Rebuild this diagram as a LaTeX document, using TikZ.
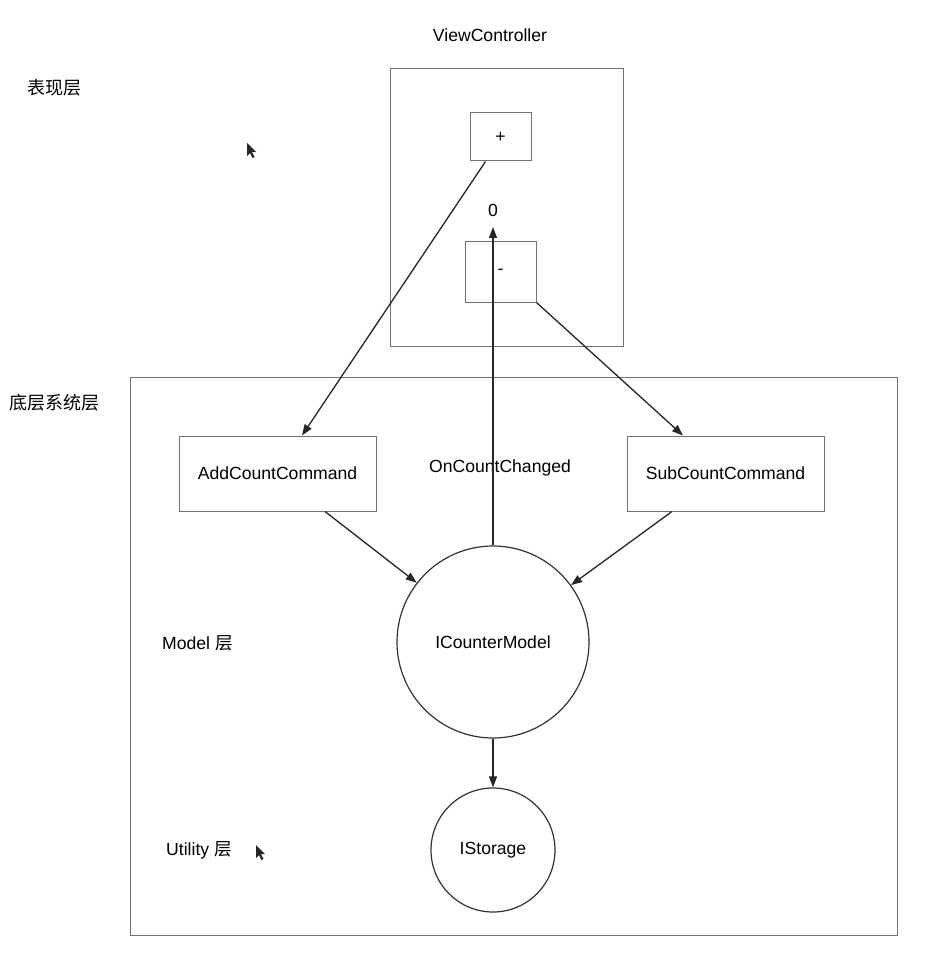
\documentclass[tikz,border=0pt]{standalone}
\usepackage{fontspec}
\setmainfont{Liberation Sans}
\newfontfamily\cjk{Noto Sans CJK SC}
\usetikzlibrary{arrows.meta,calc}
\begin{document}
\begin{tikzpicture}[x=1pt,y=-1pt,
  font=\fontsize{17.6}{20}\selectfont,
  box/.style={draw=black!55, line width=1pt, inner sep=0pt},
  circ/.style={circle, draw=black!80, line width=1.2pt, inner sep=0pt},
  arr/.style={draw=black!85, line width=1.3pt, -{Triangle[length=11pt,width=8pt]}},
  lbl/.style={inner sep=0pt, anchor=west},
  cursor/.style={fill=black!85}]
\useasboundingbox[fill=white] (0,0) rectangle (948,965);

% containers
\node[box, minimum width=233pt, minimum height=277pt] (vc) at (506.5,207.5) {};
\node[box, minimum width=767pt, minimum height=558pt] (sys) at (513.5,656) {};

% titles and layer labels
\node[inner sep=0pt] (vctitle) at (490,35) {ViewController};
\node[lbl] (l1) at (27,88) {\cjk\fontsize{18}{20}\selectfont 表现层};
\node[lbl] (l2) at (9,403) {\cjk\fontsize{18}{20}\selectfont 底层系统层};
\node[lbl] (l3) at (162,643) {Model {\cjk 层}};
\node[lbl] (l4) at (166,850) {Utility {\cjk 层}};

% view buttons
\node[box, minimum width=61pt, minimum height=48pt] (plus) at (500.5,137) {+};
\node[box, minimum width=71pt, minimum height=60pt] (minus) at (500.5,272) {-};
\node[inner sep=0pt] (zero) at (493,210) {0};
\coordinate (zerotip) at (493,227);

% commands
\node[box, minimum width=197pt, minimum height=75pt] (add) at (277.5,473.5) {AddCountCommand};
\node[box, minimum width=197pt, minimum height=75pt] (sub) at (725.5,473.5) {SubCountCommand};
\node[inner sep=0pt] (occ) at (500,468) {OnCountChanged};

% model and storage
\node[circ, minimum size=192pt] (icm) at (493,642) {ICounterModel};
\node[circ, minimum size=124pt] (ist) at (493,850) {IStorage};

% connectors
\draw[arr] ($(plus.south)+(-15,0)$) -- ($(add.north)+(24.5,0)$);
\draw[arr] (minus.south east) -- ($(sub.north)+(-42.5,0)$);
\draw[arr] ($(add.south)+(47.5,0)$) -- (icm);
\draw[arr] ($(sub.south)+(-53.5,0)$) -- (icm);
\draw[arr] (icm.north) -- (zerotip);
\draw[arr] (icm.south) -- (ist.north);

% mouse pointers
\fill[cursor] (247,143) -- (247,156) -- (250,153) -- (252.5,158) -- (254.5,157) -- (252,152) -- (256,152) -- cycle;
\fill[cursor] (256,845) -- (256,858) -- (259,855) -- (261.5,860) -- (263.5,859) -- (261,854) -- (265,854) -- cycle;
\end{tikzpicture}
\end{document}
